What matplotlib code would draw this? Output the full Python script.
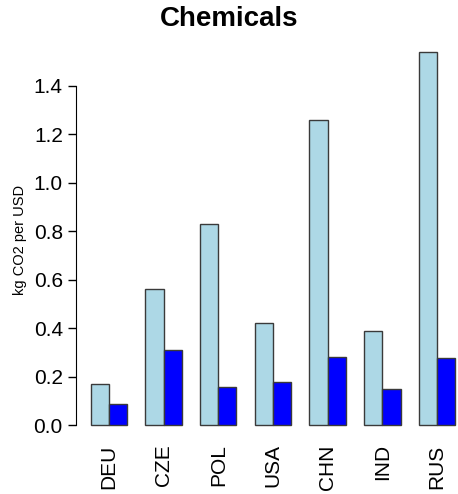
import matplotlib
matplotlib.use('Agg')
import matplotlib.pyplot as plt
import numpy as np

plt.rcParams['font.family'] = ['Liberation Sans', 'DejaVu Sans']

countries = ['DEU', 'CZE', 'POL', 'USA', 'CHN', 'IND', 'RUS']
light_vals = [0.17, 0.56, 0.83, 0.42, 1.26, 0.39, 1.54]
dark_vals = [0.087, 0.31, 0.157, 0.178, 0.28, 0.148, 0.277]

fig = plt.figure(figsize=(4.58, 4.94), dpi=100)
ax = fig.add_axes([0.166, 0.109, 0.86, 0.816])

# R style barplot, beside=TRUE: bars width 1, one-unit gap between groups
left = 1 + 3 * np.arange(len(countries))
ax.bar(left, light_vals, width=1, align='edge', color='#ADD8E6',
       edgecolor='#3a3a3a', linewidth=1.0)
ax.bar(left + 1, dark_vals, width=1, align='edge', color='#0000FF',
       edgecolor='#3a3a3a', linewidth=1.0)

top = max(light_vals + dark_vals)
ax.set_xlim(0.2, 21.8)
ax.set_ylim(-0.04 * top, top * 1.04)

for s in ['top', 'right', 'bottom']:
    ax.spines[s].set_visible(False)
ax.spines['left'].set_bounds(0, 1.4)

yt = np.arange(0, 1.41, 0.2)
ax.set_yticks(yt)
ax.set_yticklabels(['%.1f' % v for v in yt], fontsize=15)
ax.tick_params(axis='y', length=6, width=1)

ax.set_xticks(left + 1)
ax.set_xticklabels(countries, rotation=90, fontsize=15)
ax.tick_params(axis='x', length=0, pad=3)

fig.text(20 / 458, 0.515, 'kg CO2 per USD', rotation=90, ha='center',
         va='center', fontsize=10.5)
fig.text(0.5, 0.962, 'Chemicals', ha='center', va='center',
         fontsize=20, fontweight='bold')

fig.savefig('out.png', dpi=100)
